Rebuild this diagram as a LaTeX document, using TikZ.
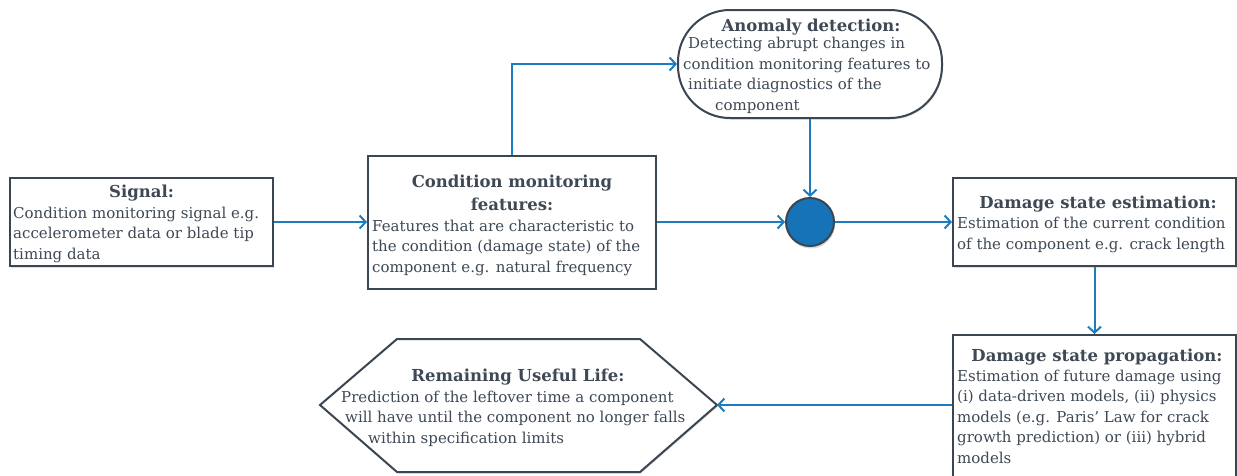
\documentclass[tikz,border=0pt]{standalone}
\usepackage{fontspec}
\setmainfont{DejaVu Serif}
\usetikzlibrary{arrows.meta,shadows}
\definecolor{bd}{HTML}{3B4652}
\definecolor{tx}{HTML}{3E4955}
\definecolor{ar}{HTML}{1C7CC0}
\definecolor{cf}{HTML}{1673B8}
\begin{document}
\begin{tikzpicture}[x=1pt,y=-1pt,
 shad/.style={drop shadow={shadow xshift=1pt,shadow yshift=-1.5pt,opacity=0.25}},
 box/.style={draw=bd, line width=2pt, fill=white, rectangle, inner sep=0pt, shad},
 ttl/.style={text=tx, font=\fontsize{16.5}{22.5}\selectfont\bfseries, align=center, inner sep=0pt, anchor=base},
 body/.style={text=tx, font=\fontsize{15}{20.5}\selectfont, align=left, inner sep=0pt, anchor=base west},
 conn/.style={draw=ar, line width=2pt, -{Straight Barb[length=6pt,width=13pt,line width=2pt]}}
]
\useasboundingbox (0,0) rectangle (1237,475);
% boxes
\node[box, minimum width=263pt, minimum height=88pt] (sig) at (141.5,222) {};
\node[box, minimum width=288pt, minimum height=133pt] (cmf) at (512,222) {};
\node[box, rounded corners=52pt, minimum width=264pt, minimum height=108pt] (ano) at (810,64) {};
\node[draw=bd, line width=2pt, fill=cf, circle, minimum size=48pt, inner sep=0pt, drop shadow={shadow xshift=1pt,shadow yshift=-2.5pt,opacity=0.3}] (dot) at (810,222) {};
\node[box, minimum width=283pt, minimum height=88pt] (dse) at (1094.5,222) {};
\node[box, minimum width=283pt, minimum height=150pt] (dsp) at (1094.5,410) {};
\draw[draw=bd, line width=2pt, fill=white, shad] (320,405) -- (397,339) -- (640,339) -- (717,405) -- (640,472) -- (397,472) -- cycle;
\coordinate (rulR) at (717,405);
% texts (base anchor = baseline of last line)
\node[ttl] (sigT) at (141.5,197) {Signal:};
\node[body] (sigB) at (13,259) {Condition monitoring signal e.g.\\accelerometer data or blade tip\\timing data};
\node[ttl] (cmfT) at (512,210) {Condition monitoring\\features:};
\node[body] (cmfB) at (372,272) {Features that are characteristic to\\the condition (damage state) of the\\component e.g. natural frequency};
\node[ttl] (anoT) at (811,31) {Anomaly detection:};
\node[body] (anoB) at (688,110) {Detecting abrupt changes in\\\hspace*{-5pt}condition monitoring features to\\initiate diagnostics of the\\\hspace*{27pt}component};
\node[ttl] (dseT) at (1098,208) {Damage state estimation:};
\node[body] (dseB) at (957,249) {Estimation of the current condition\\of the component e.g. crack length};
\node[ttl] (dspT) at (1097,361) {Damage state propagation:};
\node[body] (dspB) at (957,463) {Estimation of future damage using\\(i) data-driven models, (ii) physics\\models (e.g. Paris{\char"27} Law for crack\\growth prediction) or (iii) hybrid\\models};
\node[ttl] (rulT) at (518,381) {Remaining Useful Life:};
\node[body] (rulB) at (341,443) {Prediction of the leftover time a component\\\hspace*{4pt}will have until the component no longer falls\\\hspace*{27pt}within specification limits};
% connectors
\draw[conn] (sig.east) -- (cmf.west);
\draw[conn] (cmf.north) |- (ano.west);
\draw[conn] (ano.south) -- (dot.north);
\draw[conn] (cmf.east) -- (dot.west);
\draw[conn] (dot.east) -- (dse.west);
\draw[conn] (dse.south) -- (dse.south |- dsp.north);
\draw[conn] (dsp.west |- rulR) -- (rulR);
\end{tikzpicture}
\end{document}
